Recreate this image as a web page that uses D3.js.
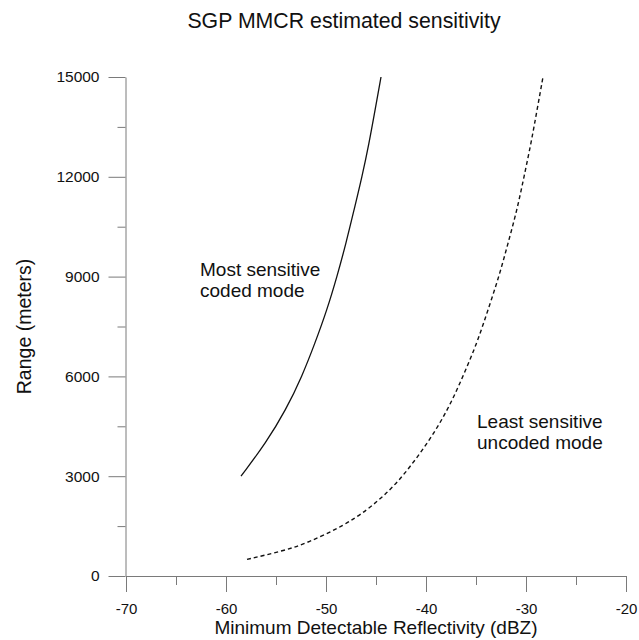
<!DOCTYPE html>
<html>
<head>
<meta charset="utf-8">
<script src="https://cdn.jsdelivr.net/npm/d3@7"></script>
<style>
  html, body { margin: 0; padding: 0; background: #fff; }
  svg { display: block; }
  text { font-family: "Liberation Sans", Arial, Helvetica, sans-serif; fill: #111; }
</style>
</head>
<body>
<svg id="chart" width="639" height="640"></svg>
<script>
// ---- data ----
const xMajorTicks = [-70, -60, -50, -40, -30, -20];
const xMinorTicks = [-65, -55, -45, -35, -25];
const yMajorTicks = [0, 3000, 6000, 9000, 12000, 15000];
const yMinorTicks = [1500, 4500, 7500, 10500, 13500];

// Most sensitive coded mode (solid)
const codedRange = [3000, 4000, 5000, 6000, 7000, 8000, 9000, 10000, 11000, 12000, 13000, 14000, 15000];
const codedDBZ   = [-58.5, -56.0, -54.0, -52.4, -51.1, -49.9, -48.9, -48.0, -47.2, -46.4, -45.7, -45.1, -44.5];

// Least sensitive uncoded mode (dashed)
const uncodedRange = [500, 750, 1000, 1500, 2000, 2500, 3000, 4000, 5000, 6000, 7000, 8000, 9000, 10000, 11000, 12000, 13000, 14000, 15000];
const uncodedDBZ   = [-57.9, -54.3, -51.8, -48.3, -45.8, -43.9, -42.3, -39.8, -37.8, -36.3, -34.9, -33.8, -32.7, -31.8, -30.9, -30.2, -29.5, -28.9, -28.3];

const titleText = "SGP MMCR estimated sensitivity";
const xTitle = "Minimum Detectable Reflectivity (dBZ)";
const yTitle = "Range (meters)";
const codedLabel = ["Most sensitive", "coded mode"];
const uncodedLabel = ["Least sensitive", "uncoded mode"];

// ---- drawing ----
const svg = d3.select("#chart");
const x = d3.scaleLinear().domain([-70, -20]).range([126, 626]);
const y = d3.scaleLinear().domain([0, 15000]).range([576, 77]);
const axisColor = "#7a7a7a";
const fmt = d => String(d);

// x axis: minor ticks
const gxMinor = svg.append("g").attr("transform", `translate(0,${y(0)})`)
  .call(d3.axisBottom(x).tickValues(xMinorTicks).tickSize(9).tickSizeOuter(0).tickFormat(""));
gxMinor.select(".domain").remove();
gxMinor.selectAll(".tick line").attr("stroke", axisColor);
// x axis: major ticks
const gx = svg.append("g").attr("transform", `translate(0,${y(0)})`)
  .call(d3.axisBottom(x).tickValues(xMajorTicks).tickSize(16).tickSizeOuter(0).tickPadding(11)
    .tickFormat(fmt));
gx.select(".domain").attr("stroke", axisColor);
gx.selectAll(".tick line").attr("stroke", axisColor);
gx.selectAll(".tick text").style("font-size", "15px").attr("fill", "#111")
  .style("font-family", '"Liberation Sans", Arial, sans-serif');

// y axis: minor ticks
const gyMinor = svg.append("g").attr("transform", `translate(${x(-70) - 0.5},0)`)
  .call(d3.axisLeft(y).tickValues(yMinorTicks).tickSize(8).tickSizeOuter(0).tickFormat(""));
gyMinor.select(".domain").remove();
gyMinor.selectAll(".tick line").attr("stroke", axisColor);
// y axis: major ticks
const gy = svg.append("g").attr("transform", `translate(${x(-70) - 0.5},0)`)
  .call(d3.axisLeft(y).tickValues(yMajorTicks).tickSize(17).tickSizeOuter(0).tickPadding(9)
    .tickFormat(fmt));
gy.select(".domain").attr("stroke", axisColor);
gy.selectAll(".tick line").attr("stroke", axisColor);
gy.selectAll(".tick text").style("font-size", "15.5px").attr("fill", "#111")
  .style("font-family", '"Liberation Sans", Arial, sans-serif');

// curves
const line = d3.line().x(d => x(d[0])).y(d => y(d[1])).curve(d3.curveBasis);
const codedPts = codedRange.map((r, i) => [codedDBZ[i], r]);
const uncodedPts = uncodedRange.map((r, i) => [uncodedDBZ[i], r]);

svg.append("path").datum(codedPts).attr("d", line)
  .attr("fill", "none").attr("stroke", "#111").attr("stroke-width", 1.3);
svg.append("path").datum(uncodedPts).attr("d", line)
  .attr("fill", "none").attr("stroke", "#111").attr("stroke-width", 1.4)
  .attr("stroke-dasharray", "4,3");

// titles
svg.append("text").attr("x", 344).attr("y", 28).attr("text-anchor", "middle")
  .style("font-size", "21.3px").text(titleText);
svg.append("text").attr("x", 376).attr("y", 634).attr("text-anchor", "middle")
  .style("font-size", "19px").text(xTitle);
svg.append("text").attr("transform", `translate(31,${(y(0) + y(15000)) / 2}) rotate(-90)`)
  .attr("text-anchor", "middle").style("font-size", "19.5px").text(yTitle);

// annotations
const ann1 = svg.append("text").style("font-size", "19px");
codedLabel.forEach((t, i) => ann1.append("tspan").attr("x", 200).attr("y", 276 + i * 21).text(t));
const ann2 = svg.append("text").style("font-size", "19px");
uncodedLabel.forEach((t, i) => ann2.append("tspan").attr("x", 477).attr("y", 428 + i * 21).text(t));
</script>
</body>
</html>
